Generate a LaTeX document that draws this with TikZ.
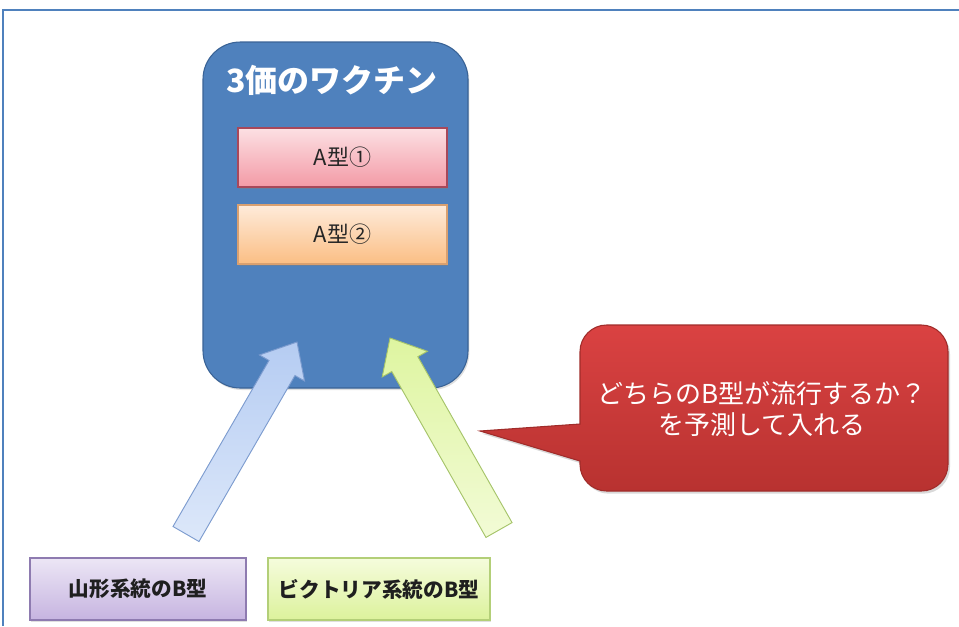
\documentclass[tikz,border=0pt]{standalone}
\usepackage{fontspec}
\newfontfamily\jp{Noto Sans CJK JP}
\usetikzlibrary{calc,shadows}
\definecolor{frameblue}{HTML}{4F81BD}
\definecolor{vacfill}{HTML}{4F81BD}
\definecolor{vacline}{HTML}{3A6396}
\definecolor{aonetop}{HTML}{FCE0E3}
\definecolor{aonebot}{HTML}{F39AA6}
\definecolor{aoneline}{HTML}{A8485A}
\definecolor{atwotop}{HTML}{FEEBDA}
\definecolor{atwobot}{HTML}{FBBE84}
\definecolor{atwoline}{HTML}{D9A070}
\definecolor{calltop}{HTML}{DA4242}
\definecolor{callbot}{HTML}{B83230}
\definecolor{callline}{HTML}{A02C2A}
\definecolor{yamatop}{HTML}{ECE6F5}
\definecolor{yamabot}{HTML}{C6B4E0}
\definecolor{yamaline}{HTML}{8E7BB0}
\definecolor{victop}{HTML}{F5FCDC}
\definecolor{vicbot}{HTML}{DCF29C}
\definecolor{vicline}{HTML}{B3CF78}
\definecolor{barrowtop}{HTML}{B5CCF2}
\definecolor{barrowbot}{HTML}{DDE8FA}
\definecolor{barrowline}{HTML}{7D9CCF}
\definecolor{garrowtop}{HTML}{DEF5A0}
\definecolor{garrowbot}{HTML}{F2FBD6}
\definecolor{garrowline}{HTML}{A6C46A}
\newcommand{\fatarrow}[3]{%
  \coordinate (nk) at ($(#3)!22.5pt!(#2)$);
  \path[#1] ($(#2)!11.25pt!90:(#3)$) -- ($(nk)!11.25pt!90:(#3)$)
    -- ($(nk)!19.5pt!90:(#3)$) -- (#3) -- ($(nk)!19.5pt!-90:(#3)$)
    -- ($(nk)!11.25pt!-90:(#3)$) -- ($(#2)!11.25pt!-90:(#3)$) -- cycle;}
\tikzset{
  softshadow/.style={drop shadow={opacity=0.25,shadow xshift=1pt,shadow yshift=-1.5pt}},
  abox/.style={rectangle, minimum width=156.75pt, minimum height=44.25pt,
    line width=0.8pt, text=black!85, font=\jp\fontsize{16.5}{18}\selectfont,
    drop shadow={opacity=0.45,shadow xshift=0.5pt,shadow yshift=-1.5pt}},
  bbox/.style={rectangle, minimum height=46.5pt, line width=0.8pt,
    text=black!88, font=\jp\bfseries\fontsize{15.5}{18}\selectfont, softshadow},
  frameline/.style={draw=frameblue, line width=1.5pt},
}
\begin{document}
\begin{tikzpicture}[x=0.75pt,y=-0.75pt,font=\jp]
\useasboundingbox (0,0) rectangle (959,626);
% frame
\coordinate (fbl) at (3,626);
\coordinate (ftl) at (3,10);
\coordinate (ftr) at (962,10);
\draw[frameline] (fbl) -- (ftl) -- (ftr);
% vaccine box
\node[draw=vacline, fill=vacfill, line width=0.8pt, rounded corners=28pt,
  minimum width=198.75pt, minimum height=259.5pt, softshadow] (vac) at (335.5,215) {};
\node[text=white, font=\jp\bfseries\fontsize{24}{28}\selectfont] (title) at (332,80) {3価のワクチン};
\node[abox, draw=aoneline, top color=aonetop, bottom color=aonebot] (aone) at (342.5,157.5) {A型①};
\node[abox, draw=atwoline, top color=atwotop, bottom color=atwobot] (atwo) at (342.5,234.5) {A型②};
% bottom boxes
\node[bbox, minimum width=162pt, draw=yamaline, top color=yamatop, bottom color=yamabot] (yama) at (138,589) {山形系統のB型};
\node[bbox, minimum width=166.5pt, draw=vicline, top color=victop, bottom color=vicbot] (vic) at (379,589) {ビクトリア系統のB型};
% arrows
\coordinate (btail) at (186,534);
\coordinate (btip) at (297,342);
\coordinate (gtail) at (499,530);
\coordinate (gtip) at (390,338);
\fatarrow{draw=barrowline, line width=0.7pt, top color=barrowtop, bottom color=barrowbot}{btail}{btip}
\fatarrow{draw=garrowline, line width=0.7pt, top color=garrowtop, bottom color=garrowbot}{gtail}{gtip}
% callout
\coordinate (ctip) at (480,431);
\path[draw=callline, line width=0.8pt, top color=calltop, bottom color=callbot,
  drop shadow={opacity=0.3,shadow xshift=1.5pt,shadow yshift=-2pt}]
  (ctip) -- (580,424) [rounded corners=20pt] -- (580,325) -- (948,325) -- (948,491)
  -- (580,491) [sharp corners] -- (580,461) -- cycle;
\node[text=white, align=center, font=\jp\fontsize{19.5}{23.5}\selectfont] (callout) at (762,409)
  {どちらのB型が流行するか？\\を予測して入れる};
\end{tikzpicture}
\end{document}
